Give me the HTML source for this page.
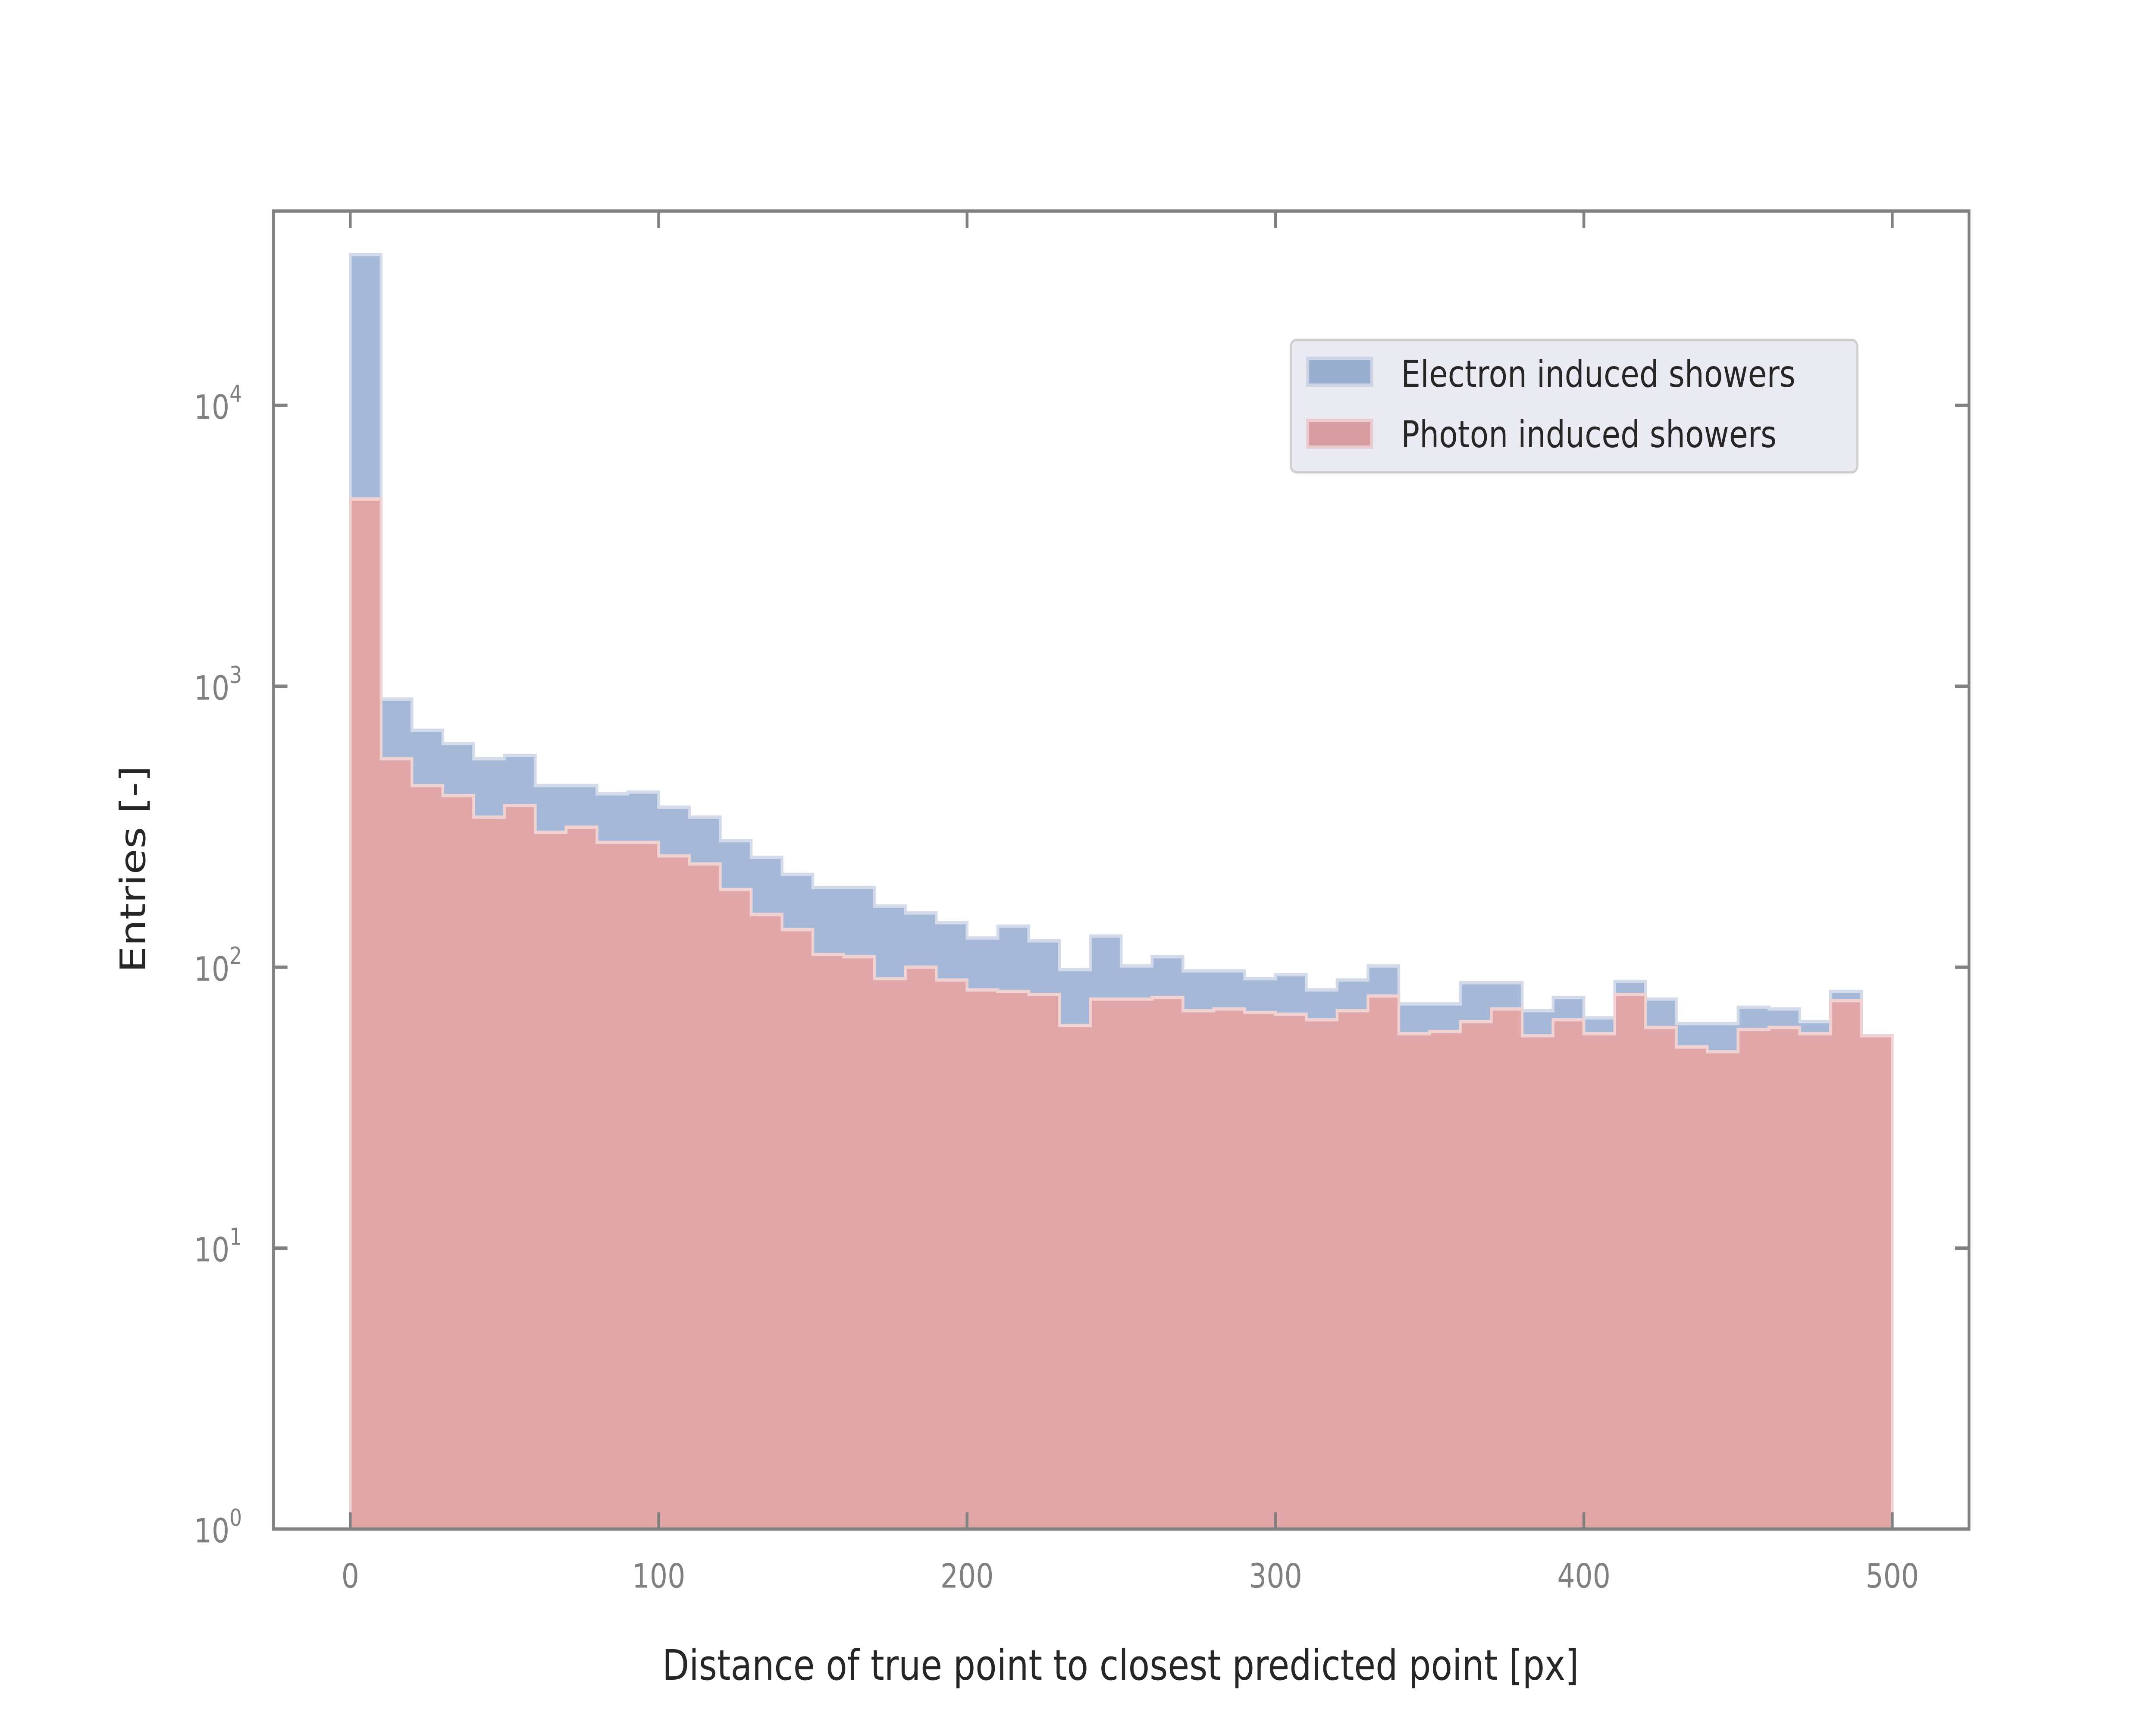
<!DOCTYPE html>
<html><head><meta charset="utf-8"><style>
html,body{margin:0;padding:0;background:#fff;width:100%;height:100%;overflow:hidden;}
svg{display:block;width:100vw;height:100vh;}
text{font-family:"DejaVu Sans","Liberation Sans",sans-serif;}
</style></head><body>
<svg id="chart" viewBox="0 0 1545 1030" preserveAspectRatio="none" xmlns="http://www.w3.org/2000/svg">
<rect x="0" y="0" width="1545" height="1030" fill="#fff"/>
<g id="bars"></g>
<rect x="196" y="126" width="1215" height="787" fill="none" stroke="#808080" stroke-width="2"/>
<g id="ticks"></g>
<text x="803" y="1003" font-size="25" fill="#262626" text-anchor="middle">Distance of true point to closest predicted point [px]</text>
<text transform="translate(104,519) rotate(-90)" font-size="25" fill="#262626" text-anchor="middle">Entries [-]</text>
<g>
<rect x="925" y="203" width="406" height="79" rx="4" fill="#eaeaf2" stroke="#d0d0d0" stroke-width="1.5"/>
<rect x="937" y="214" width="46" height="16" fill="#9aaed0" stroke="#cdd5e6" stroke-width="2"/>
<text x="1004" y="231" font-size="22" fill="#262626">Electron induced showers</text>
<rect x="937" y="251" width="46" height="16" fill="#d79ca2" stroke="#ebcdd1" stroke-width="2"/>
<text x="1004" y="267" font-size="22" fill="#262626">Photon induced showers</text>
</g>
</svg>
<script>
const binEdgesStart = 0;
const binWidth = 10;
const electronCounts = [34400,900,697,625,552,567,443,443,414,420,371,342,282,246,214,192,192,165,156,144,127,140,124,98,129,101,109,97,97,91,94,83,90,101,74,74,88,88,70,78,66,89,77,63,63,72,71,64,82,57];
const photonCounts = [4640,552,443,408,342,376,302,315,278,278,249,233,189,154,136,111,109,91,100,90,83,82,80,62,77,77,78,70,71,69,68,65,70,79,58,59,64,71,57,65,58,80,61,52,50,60,61,58,76,57];
const xTicks = [0,100,200,300,400,500];
const yTickExps = [0,1,2,3,4];

const NS = "http://www.w3.org/2000/svg";
function xs(v){ return 251 + (v/500)*(1356-251); }
function ys(v){ return 913 - Math.log10(Math.max(v,1))*167.75; }

function stepPath(counts){
  let d = "M" + xs(binEdgesStart) + "," + ys(1);
  counts.forEach((c,i)=>{
    const x0 = xs(binEdgesStart + i*binWidth), x1 = xs(binEdgesStart + (i+1)*binWidth);
    d += " L" + x0 + "," + ys(c) + " L" + x1 + "," + ys(c);
  });
  d += " L" + xs(binEdgesStart + counts.length*binWidth) + "," + ys(1) + " Z";
  return d;
}
const bars = document.getElementById("bars");
const pe = document.createElementNS(NS,"path");
pe.setAttribute("d", stepPath(electronCounts));
pe.setAttribute("fill","#a6b8d7");
pe.setAttribute("stroke","#d3dbea");
pe.setAttribute("stroke-width","2");


bars.appendChild(pe);
const pp = document.createElementNS(NS,"path");
pp.setAttribute("d", stepPath(photonCounts));
pp.setAttribute("fill","#e1a6a8");
pp.setAttribute("stroke","#f0d2d3");
pp.setAttribute("stroke-width","2");


bars.appendChild(pp);

const ticks = document.getElementById("ticks");
function line(x1,y1,x2,y2,name){
  const l = document.createElementNS(NS,"line");
  l.setAttribute("x1",x1);l.setAttribute("y1",y1);l.setAttribute("x2",x2);l.setAttribute("y2",y2);
  l.setAttribute("stroke","#808080");l.setAttribute("stroke-width","2");
  
  
  ticks.appendChild(l);
}
xTicks.forEach(v=>{
  const x = xs(v);
  line(x,913,x,903,'x-tick');
  line(x,126,x,136,'x-tick-top');
  const t = document.createElementNS(NS,"text");
  t.setAttribute("x",x);t.setAttribute("y",948);t.setAttribute("font-size","20");
  t.setAttribute("fill","#808080");t.setAttribute("text-anchor","middle");
  t.textContent = String(v);
  
  
  ticks.appendChild(t);
});
yTickExps.forEach(e=>{
  const y = ys(Math.pow(10,e));
  line(196,y,206,y,'y-tick');
  line(1411,y,1401,y,'y-tick-right');
  const t = document.createElementNS(NS,"text");
  t.setAttribute("x",139);t.setAttribute("y",y+8);t.setAttribute("font-size","20");
  t.setAttribute("fill","#808080");
  const b = document.createElementNS(NS,"tspan"); b.textContent="10";
  const s = document.createElementNS(NS,"tspan"); s.textContent=String(e);
  s.setAttribute("font-size","14"); s.setAttribute("dy","-10");
  t.appendChild(b); t.appendChild(s);
  
  
  ticks.appendChild(t);
});
</script>
</body></html>
